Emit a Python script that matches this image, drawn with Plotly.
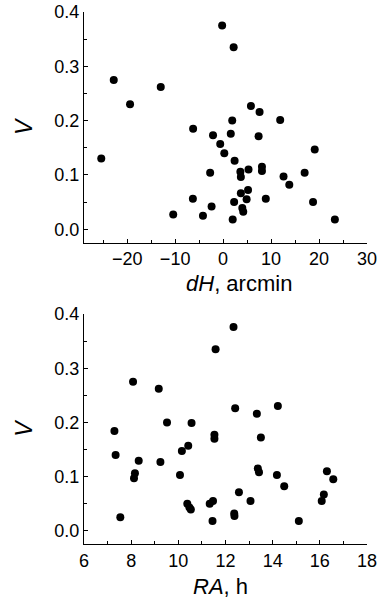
import plotly.graph_objects as go

# Top panel: V versus dH (arcmin)
dH = [-0.2, 2.2, -22.8, -13.0, -19.4, 5.8, 7.6, 1.9, 11.9, -6.25, -2.1, 1.6, 7.4, -0.6,
      19.1, -25.4, 0.25, 2.4, -2.7, 3.6, 3.7, 5.3, 8.1, 8.1, 12.6, 13.8, 17.0, 3.7, 5.2,
      -6.3, -2.4, 2.3, 4.9, 8.9, 18.75, 4.0, 4.2, -10.4, -4.2, 2.0, 23.3]
V_dH = [0.375, 0.335, 0.275, 0.262, 0.230, 0.227, 0.216, 0.200, 0.201, 0.185, 0.173, 0.176,
        0.171, 0.157, 0.147, 0.130, 0.140, 0.126, 0.104, 0.106, 0.096, 0.110, 0.115, 0.107,
        0.097, 0.082, 0.104, 0.066, 0.072, 0.056, 0.042, 0.050, 0.055, 0.056, 0.050, 0.039,
        0.032, 0.027, 0.025, 0.018, 0.018]

# Bottom panel: V versus RA (h)
RA = [12.34, 11.58, 8.08, 9.17, 12.41, 13.33, 14.22, 9.52, 10.56, 7.29, 11.53, 11.53, 13.5,
      7.34, 10.15, 10.42, 8.32, 9.24, 8.16, 8.12, 10.07, 13.37, 13.42, 14.18, 14.49, 16.3,
      16.57, 16.17, 16.08, 13.06, 12.57, 11.33, 11.47, 10.38, 10.47, 10.53, 12.37, 12.38,
      11.45, 15.11, 7.54]
V_RA = [0.376, 0.335, 0.275, 0.262, 0.226, 0.216, 0.230, 0.200, 0.199, 0.184, 0.177, 0.170,
        0.172, 0.140, 0.147, 0.157, 0.129, 0.127, 0.106, 0.097, 0.103, 0.115, 0.108, 0.103,
        0.082, 0.110, 0.095, 0.067, 0.055, 0.055, 0.071, 0.050, 0.055, 0.050, 0.043, 0.039,
        0.032, 0.027, 0.018, 0.018, 0.025]

FONT = "Liberation Sans, Arial, sans-serif"
marker = dict(color="black", size=8, line=dict(width=0))

fig = go.Figure()
fig.add_trace(go.Scatter(x=dH, y=V_dH, mode="markers", marker=marker, xaxis="x", yaxis="y",
                         showlegend=False, hoverinfo="skip"))
fig.add_trace(go.Scatter(x=RA, y=V_RA, mode="markers", marker=marker, xaxis="x2", yaxis="y2",
                         showlegend=False, hoverinfo="skip"))

common = dict(showline=True, linecolor="black", linewidth=1, showgrid=False, zeroline=False,
              ticks="inside", ticklen=4, tickwidth=1, tickcolor="black",
              tickfont=dict(family=FONT, size=18, color="black"), automargin=False)

yax = dict(common, range=[-0.0245, 0.4], tick0=0, dtick=0.1, tickformat=".1f",
           minor=dict(ticks="inside", ticklen=3, dtick=0.05, tick0=0, tickcolor="black", showgrid=False),
           title=dict(text="<i>V</i>", font=dict(family=FONT, size=23, color="black"), standoff=15))

title_font = dict(family=FONT, size=22, color="black")

fig.update_layout(
    width=380, height=599,
    margin=dict(l=84, r=13, t=12, b=55),
    paper_bgcolor="white", plot_bgcolor="white",
    xaxis=dict(common, domain=[0, 1], anchor="y", range=[-29, 30], tick0=0, dtick=10,
               minor=dict(ticks="inside", ticklen=3, dtick=5, tick0=0, tickcolor="black", showgrid=False)),
    yaxis=dict(yax, domain=[0.5667, 1], anchor="x"),
    xaxis2=dict(common, domain=[0, 1], anchor="y2", range=[6, 18], tick0=6, dtick=2,
                minor=dict(ticks="inside", ticklen=3, dtick=1, tick0=6, tickcolor="black", showgrid=False)),
    yaxis2=dict(yax, domain=[0, 0.4323], anchor="x2"),
    annotations=[
        dict(text="<i>dH</i>, arcmin", xref="paper", yref="paper", x=0.548, y=0.4906,
             xanchor="center", yanchor="middle", showarrow=False, font=title_font),
        dict(text="<i>RA</i>, h", xref="paper", yref="paper", x=0.484, y=-0.08,
             xanchor="center", yanchor="middle", showarrow=False, font=title_font),
    ],
)

fig.write_html("out.html")
